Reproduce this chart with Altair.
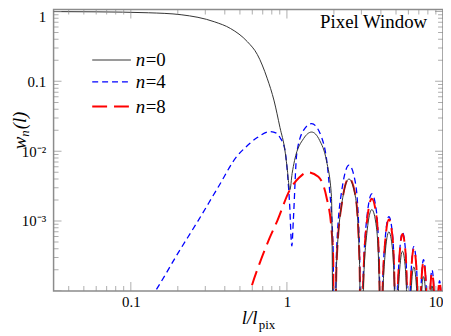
import altair as alt
import pandas as pd

# ---------------- data ----------------
# n = 0 : main lobe + first side lobe
n0_x = [0.032, 0.06, 0.13, 0.21, 0.345, 0.436, 0.558, 0.646, 0.747, 0.828,
        0.903, 0.971, 1.0, 1.045, 1.08, 1.12, 1.28, 1.44, 1.62, 1.79, 1.93]
n0_y = [0.998, 0.99, 0.96, 0.9, 0.71, 0.57, 0.37, 0.243, 0.111, 0.0525,
        0.0218, 0.0103, 0.0062, 0.0028, 0.0048, 0.0074, 0.0152, 0.0188, 0.0143, 0.0074, 0.00223]

# n = 4 : rising part + first two lobes
n4_x = [0.135, 0.144, 0.201, 0.269, 0.361, 0.483, 0.535, 0.646, 0.78, 0.865, 0.903,
        0.971, 1.0, 1.04, 1.075, 1.1, 1.157, 1.28, 1.44, 1.67, 1.87, 1.98]
n4_y = [0.00008, 0.0001, 0.00035, 0.001, 0.003, 0.0087, 0.011, 0.0157, 0.0191, 0.0179, 0.0157,
        0.0105, 0.0060, 0.0018, 0.00044, 0.00105, 0.0093, 0.020, 0.0248, 0.0157, 0.0031, 0.00036]

# n = 8 : rising part + first lobe
n8_x = [0.55, 0.583, 0.665, 0.769, 0.865, 1.045, 1.2, 1.36, 1.59, 1.79, 1.93, 1.98]
n8_y = [0.00006, 0.0001, 0.00024, 0.00055, 0.00099, 0.0028, 0.0042, 0.0050, 0.0043, 0.00223, 0.00076, 0.00029]

# oscillating tail (shared l/l_pix positions)
osc_x = [2.0, 2.08, 2.25, 2.5, 2.75, 2.92,
         3.0, 3.08, 3.25, 3.5, 3.75, 3.92,
         4.0, 4.08, 4.25, 4.5, 4.75, 4.92,
         5.0, 5.08, 5.25, 5.5, 5.75, 5.92,
         6.0, 6.08, 6.25, 6.5, 6.75, 6.92,
         7.0, 7.08, 7.25, 7.5, 7.75, 7.92,
         8.0, 8.08, 8.25, 8.5, 8.75, 8.92,
         9.0, 9.08, 9.25, 9.5, 9.75, 9.92,
         10.0]
osc_n0 = [1e-6, 0.00024, 0.0018, 0.0040, 0.0022, 0.00024,
          1e-6, 0.000088, 0.00066, 0.00146, 0.0008, 0.000088,
          1e-6, 0.000042, 0.00032, 0.0007, 0.00039, 0.000042,
          1e-6, 0.000022, 0.00017, 0.00037, 0.0002, 0.000022,
          1e-6, 0.000013, 0.0001, 0.00022, 0.00012, 0.000013,
          1e-6, 0.00001, 0.000072, 0.00016, 0.000088, 0.00001,
          1e-6, 0.000007, 0.000053, 0.000118, 0.000065, 0.000007,
          1e-6, 0.000006, 0.000045, 0.0001, 0.000055, 0.000006,
          1e-6]
osc_n4 = [1e-6, 0.00038, 0.0028, 0.0063, 0.0035, 0.00038,
          1e-6, 0.000147, 0.0011, 0.00245, 0.00135, 0.000147,
          1e-6, 0.00007, 0.00052, 0.00116, 0.00064, 0.00007,
          1e-6, 0.000041, 0.00031, 0.00069, 0.00038, 0.000041,
          1e-6, 0.000026, 0.00019, 0.00043, 0.00024, 0.000026,
          1e-6, 0.000017, 0.000126, 0.00028, 0.000154, 0.000017,
          1e-6, 0.000012, 0.00009, 0.0002, 0.00011, 0.000012,
          1e-6, 0.000008, 0.000063, 0.00014, 0.000077, 0.000008,
          1e-6]
osc_n8 = [1e-6, 0.00025, 0.0018, 0.0041, 0.0023, 0.00025,
          1e-6, 0.000125, 0.00094, 0.00209, 0.00115, 0.000125,
          1e-6, 0.000063, 0.00047, 0.00105, 0.00058, 0.000063,
          1e-6, 0.000039, 0.00029, 0.00065, 0.00036, 0.000039,
          1e-6, 0.000024, 0.00018, 0.0004, 0.00022, 0.000024,
          1e-6, 0.000016, 0.000117, 0.00026, 0.000143, 0.000016,
          1e-6, 0.000011, 0.000081, 0.00018, 0.0001, 0.000011,
          1e-6, 0.000008, 0.000061, 0.000135, 0.000074, 0.000008,
          1e-6]

# axis ticks
x_major = [0.1, 1, 10]
x_minor = [0.04, 0.05, 0.06, 0.07, 0.08, 0.09,
           0.2, 0.3, 0.4, 0.5, 0.6, 0.7, 0.8, 0.9,
           2, 3, 4, 5, 6, 7, 8, 9]
y_major = [1e-4, 1e-3, 1e-2, 0.1, 1]
y_minor = [2e-4, 3e-4, 4e-4, 5e-4, 6e-4, 7e-4, 8e-4, 9e-4,
           2e-3, 3e-3, 4e-3, 5e-3, 6e-3, 7e-3, 8e-3, 9e-3,
           0.02, 0.03, 0.04, 0.05, 0.06, 0.07, 0.08, 0.09,
           0.2, 0.3, 0.4, 0.5, 0.6, 0.7, 0.8, 0.9]
y_label_values = [1, 0.1, 0.01, 0.001]

# ---------------- chart ----------------
W, H = 393, 284
FONT = "Liberation Serif"
AX = "#8c8c8c"
xs = alt.Scale(type="log", domain=[0.032, 10], nice=False)
ys = alt.Scale(type="log", domain=[1e-4, 1.07], nice=False)

x_axis = alt.Axis(values=x_major, labelExpr="datum.value < 0.5 ? '0.1' : (datum.value < 5 ? '1' : '10')",
                  ticks=False, domain=False, grid=False, title=None, labelFont=FONT,
                  labelFontSize=15, labelColor="black", labelPadding=4, labelFlush=True)
y_axis = alt.Axis(values=y_label_values,
                  labelExpr="datum.value > 0.5 ? '1' : (datum.value > 0.05 ? '0.1' : (datum.value > 0.005 ? '10⁻²' : '10⁻³'))",
                  ticks=False, domain=False, grid=False, title=None, labelFont=FONT,
                  labelFontSize=15, labelColor="black", labelPadding=8,
                  labelFlush=5, labelFlushOffset=2)


def series(xh, yh, yo):
    return pd.DataFrame({"x": xh + osc_x, "y": yh + yo})


def line(df, color, width, dash=None):
    kw = dict(color=color, strokeWidth=width, clip=True, interpolate="monotone")
    if dash:
        kw["strokeDash"] = dash
    return alt.Chart(df).mark_line(**kw).encode(
        x=alt.X("x:Q", scale=xs, axis=x_axis),
        y=alt.Y("y:Q", scale=ys, axis=y_axis),
        order=alt.Order("x:Q"),
    )


blue = line(series(n4_x, n4_y, osc_n4), "#0000ff", 1.3, [6, 4])
red = line(series(n8_x, n8_y, osc_n8), "#ff0000", 2, [15, 7])
black = line(series(n0_x, n0_y, osc_n0), "#333333", 1)

xt = pd.DataFrame({"x": x_major + x_minor, "len": [18] * len(x_major) + [10] * len(x_minor)})
yt = pd.DataFrame({"y": y_major + y_minor, "len": [16] * len(y_major) + [10] * len(y_minor)})


def xticks(ypos):
    return alt.Chart(xt).mark_tick(orient="vertical", clip=True, color=AX, thickness=1).encode(
        x=alt.X("x:Q", scale=xs, axis=x_axis), y=alt.value(ypos),
        size=alt.Size("len:Q", scale=None, legend=None))


def yticks(xpos):
    return alt.Chart(yt).mark_tick(orient="horizontal", clip=True, color=AX, thickness=1).encode(
        y=alt.Y("y:Q", scale=ys, axis=y_axis), x=alt.value(xpos),
        size=alt.Size("len:Q", scale=None, legend=None))


one = pd.DataFrame({"a": [0]})


def txt(t, x, y, size, italic=False, align="left", angle=0, baseline="alphabetic"):
    kw = dict(text=t, font=FONT, fontSize=size, color="black", align=align, baseline=baseline)
    if italic:
        kw["fontStyle"] = "italic"
    if angle:
        kw["angle"] = angle
    return alt.Chart(one).mark_text(**kw).encode(x=alt.value(x), y=alt.value(y))


def leg(y, color, width, dash=None):
    kw = dict(color=color, strokeWidth=width)
    if dash:
        kw["strokeDash"] = dash
    return alt.Chart(one).mark_rule(**kw).encode(x=alt.value(39), x2=alt.value(78), y=alt.value(y))


layers = [
    blue, red, black,
    xticks(H), xticks(0), yticks(0), yticks(W),
    leg(51, "#333333", 1), leg(73, "#0000ff", 1.3, [6, 4]), leg(98, "#ff0000", 2, [15, 7]),
    txt("n", 83, 57, 19, italic=True), txt("=0", 93, 57, 19),
    txt("n", 83, 79, 19, italic=True), txt("=4", 93, 79, 19),
    txt("n", 83, 104, 19, italic=True), txt("=8", 93, 104, 19),
    txt("Pixel Window", 377, 19, 19, align="right"),
    txt("l/l", 190, 317, 19, italic=True),
    txt("pix", 207, 322, 13),
    txt("w", -28, 141, 19, italic=True, angle=270),
    txt("n", -25, 128.5, 13, italic=True, angle=270),
    txt("(l)", -28, 121, 19, italic=True, angle=270),
]

chart = alt.layer(*layers).properties(
    width=W, height=H,
    padding={"left": 46, "top": 0, "right": 0, "bottom": 40},
    autosize=alt.AutoSizeParams(type="none"),
).configure_view(stroke=AX, strokeWidth=1.5)

chart.save("out.html", embed_options={"renderer": "svg", "actions": False})
